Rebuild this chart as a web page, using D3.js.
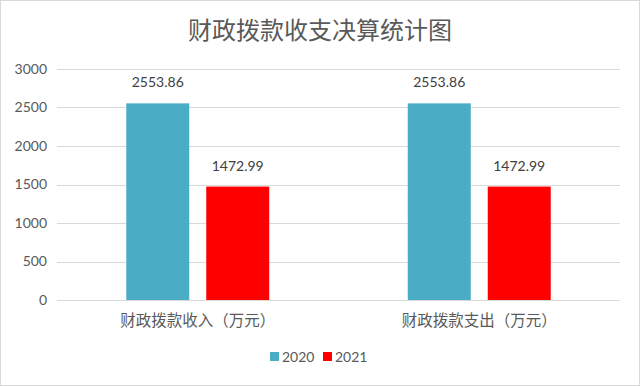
<!DOCTYPE html>
<html><head><meta charset="utf-8">
<script src="https://cdn.jsdelivr.net/npm/d3@7"></script>
<style>body{margin:0;background:#fff}svg{display:block}</style>
</head><body>
<script>
const categories = ["财政拨款收入（万元）", "财政拨款支出（万元）"];
const seriesNames = ["2020", "2021"];
const values2020 = [2553.86, 2553.86];
const values2021 = [1472.99, 1472.99];
const yTicks = [0, 500, 1000, 1500, 2000, 2500, 3000];
const colors = ["#4BACC6", "#FF0000"];

const W = 640, H = 386;
const svg = d3.select("body").append("svg").attr("width", W).attr("height", H);
svg.append("rect").attr("x", 0.5).attr("y", 0.5).attr("width", W - 1).attr("height", H - 1)
  .attr("fill", "#fff").attr("stroke", "#d9d9d9");

const m = {l: 57, r: 20, t: 69, b: 86};
const x0 = d3.scaleBand().domain(categories).range([m.l, W - m.r]);
const y = d3.scaleLinear().domain([0, 3000]).range([H - m.b, m.t]);
const x1 = d3.scaleBand().domain(seriesNames).range([0, x0.bandwidth()]).paddingInner(0.2125).paddingOuter(0.866);

const grid = svg.append("g");
grid.selectAll("line").data(yTicks).join("line")
  .attr("x1", m.l).attr("x2", W - m.r)
  .attr("y1", d => Math.round(y(d)) + 0.5).attr("y2", d => Math.round(y(d)) + 0.5)
  .attr("stroke", "#d9d9d9").attr("stroke-width", 1);

const yAxis = svg.append("g").attr("transform", `translate(${m.l - 10},0)`)
  .call(d3.axisLeft(y).tickValues(yTicks).tickFormat(d3.format("d")).tickSize(0).tickPadding(0));
yAxis.select(".domain").remove();
yAxis.selectAll("text").attr("font-family", "Lato, 'Noto Sans', sans-serif").attr("font-size", 14).attr("fill", "#595959");

const data = categories.map((c, i) => ({c, vals: [values2020[i], values2021[i]]}));
const groups = svg.append("g").selectAll("g").data(data).join("g")
  .attr("transform", d => `translate(${x0(d.c)},0)`);
groups.selectAll("rect").data(d => d.vals.map((v, j) => ({k: seriesNames[j], v, j}))).join("rect")
  .attr("x", d => x1(d.k)).attr("width", x1.bandwidth())
  .attr("y", d => y(d.v)).attr("height", d => y(0) - y(d.v))
  .attr("fill", d => colors[d.j]);
groups.selectAll("text.val").data(d => d.vals.map((v, j) => ({k: seriesNames[j], v, j}))).join("text")
  .attr("class", "val")
  .attr("x", d => x1(d.k) + x1.bandwidth() / 2).attr("y", d => y(d.v) - 16)
  .attr("text-anchor", "middle").attr("font-family", "Lato, 'Noto Sans', sans-serif")
  .attr("font-size", 14).attr("fill", "#404040").text(d => d.v.toFixed(2));

svg.append("line").attr("x1", m.l).attr("x2", W - m.r)
  .attr("y1", Math.round(y(0)) + 0.5).attr("y2", Math.round(y(0)) + 0.5).attr("stroke", "#d9d9d9");

const xAxis = svg.append("g").attr("transform", `translate(0,${y(0)})`)
  .call(d3.axisBottom(x0).tickSize(0).tickPadding(15));
xAxis.select(".domain").remove();
xAxis.selectAll("text").attr("font-family", "'Noto Sans CJK SC', sans-serif").attr("font-size", 15.5).attr("fill", "#595959");

svg.append("text").attr("x", W / 2).attr("y", 39).attr("text-anchor", "middle")
  .attr("font-family", "'Noto Sans CJK SC', sans-serif").attr("font-size", 24).attr("fill", "#595959")
  .text("财政拨款收支决算统计图");

const legend = svg.append("g").attr("transform", "translate(270,357)");
const li = legend.selectAll("g").data(seriesNames).join("g")
  .attr("transform", (d, i) => `translate(${i * 53},0)`);
li.append("rect").attr("x", 0).attr("y", -5).attr("width", 9).attr("height", 9).attr("fill", (d, i) => colors[i]);
li.append("text").attr("x", 12).attr("y", 0).attr("dy", "0.35em").attr("font-family", "Lato, 'Noto Sans', sans-serif")
  .attr("font-size", 14).attr("fill", "#595959").text(d => d);
</script>
</body></html>
